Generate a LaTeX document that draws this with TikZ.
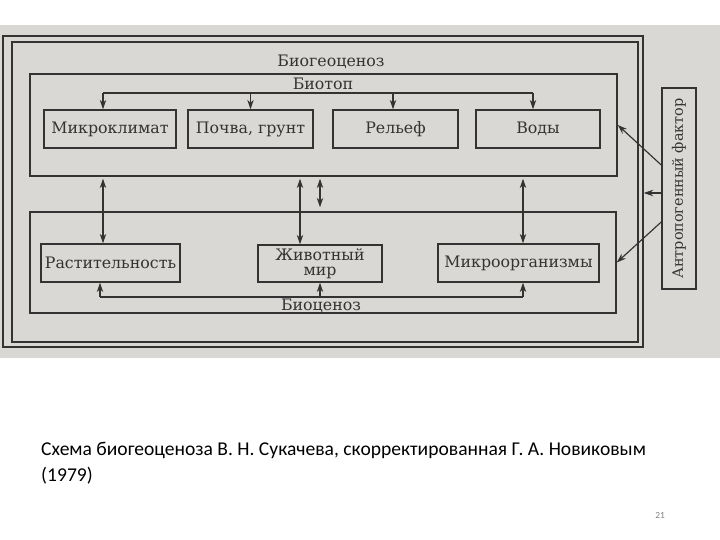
\documentclass[tikz,border=0pt]{standalone}
\usepackage{fontspec}
\setmainfont{DejaVu Serif}
\newfontfamily\capfont{Carlito}
\usetikzlibrary{arrows.meta, positioning}
\definecolor{scan}{HTML}{DAD8D4}
\definecolor{ink}{HTML}{333333}

\begin{document}
\begin{tikzpicture}[x=0.03cm, y=-0.03cm, >=Stealth,
      box/.style={draw=ink, line width=1.3pt, minimum height=1.14cm, inner sep=0pt,
                  font=\fontsize{13.5}{13}\selectfont, text=ink, align=center},
      cont/.style={draw=ink, line width=1.3pt, inner sep=0pt},
      lbl/.style={font=\fontsize{13.5}{14}\selectfont, text=ink},
      link/.style={-{Stealth[length=8pt, width=5.5pt]}, line width=1pt, draw=ink},
      both/.style={{Stealth[length=8pt, width=5.5pt]}-{Stealth[length=8pt, width=5.5pt]}, line width=1pt, draw=ink}]

    \useasboundingbox (0,0) rectangle (720,540);
    \fill[scan] (0,25) rectangle (720,358);

    % frames of the biogeocenosis
    \node[cont, minimum width=19.2cm, minimum height=9.33cm]  (frameout) at (323,191.5) {};
    \node[cont, minimum width=18.78cm, minimum height=9.0cm]  (framein)  at (325,192) {};
    \node[cont, minimum width=17.61cm, minimum height=3.06cm] (biotop)   at (323.5,125) {};
    \node[cont, minimum width=17.58cm, minimum height=3.03cm] (biocen)   at (323,262.5) {};

    \node[lbl] (lbgc) at (331,62)  {Биогеоценоз};
    \node[lbl] (lbt)  at (323,84)  {Биотоп};
    \node[lbl] (lbc)  at (321,306) {Биоценоз};

    % biotope components
    \node[box, minimum width=3.96cm] (mk) at (110,129)   {Микроклимат};
    \node[box, minimum width=3.75cm] (pg) at (250.5,129) {Почва, грунт};
    \node[box, minimum width=3.75cm] (rl) at (395.5,129) {Рельеф};
    \node[box, minimum width=3.72cm] (vd) at (538,129)   {Воды};

    % biocenosis components
    \node[box, minimum width=4.17cm] (rs) at (110.5,263) {Растительность};
    \node[box, minimum width=3.72cm, minimum height=1.11cm] (zh) at (320,263.5) {Животный\\мир};
    \node[box, minimum width=4.83cm] (mo) at (518.5,263) {Микроорганизмы};

    % anthropogenic factor
    \node[box, minimum width=1.02cm, minimum height=6.03cm] (af) at (679,188.5) {};
    \node[lbl, font=\fontsize{12.3}{13}\selectfont, rotate=90] (laf) at (af.center) {Антропогенный фактор};

    % upper distribution line
    \coordinate (topL) at (103,93);
    \coordinate (topR) at (533,93);
    \draw[line width=1pt, ink] (topL) -- (topR);
    \draw[link] (topL) -- (topL |- mk.north);
    \draw[link] (pg.north |- topL) -- (pg.north);
    \draw[link] ([xshift=-0.075cm]rl.north |- topL) -- ([xshift=-0.075cm]rl.north);
    \draw[link] (topR) -- (topR |- vd.north);

    % lower distribution line
    \coordinate (botL) at (100,297);
    \coordinate (botR) at (523,297);
    \draw[line width=1pt, ink] (botL) -- (botR);
    \draw[link] (botL) -- (botL |- rs.south);
    \draw[link] (zh.south |- botL) -- (zh.south);
    \draw[link] (botR) -- (botR |- mo.south);

    % biotope <-> biocenosis
    \draw[both] ([yshift=-0.06cm]topL |- biotop.south) -- (topL |- rs.north);
    \draw[both] ([xshift=-0.6cm, yshift=-0.06cm]zh.north |- biotop.south) -- ([xshift=-0.6cm]zh.north);
    \draw[both] ([yshift=-0.06cm]zh.north |- biotop.south) -- ([yshift=0.12cm]zh.north |- biocen.north);
    \draw[both] ([yshift=-0.06cm]botR |- biotop.south) -- (botR |- mo.north);

    % anthropogenic influence
    \coordinate (afmid) at ([yshift=-0.135cm]af.west);
    \draw[link] ([yshift=0.705cm]af.west) -- (biotop.east);
    \draw[link] (afmid) -- (frameout.east |- afmid);
    \draw[link] ([yshift=-1.005cm]af.west) -- (biocen.east);

    % caption
    \node[font=\capfont\fontsize{16.7}{22}\selectfont, anchor=north west, align=left, inner sep=0pt] (cap) at (41,442)
      {Схема биогеоценоза В. Н. Сукачева, скорректированная Г. А. Новиковым\\(1979)};
    \node[font=\capfont\fontsize{8}{9}\selectfont, text=gray] (pnum) at (660,515) {21};

\end{tikzpicture}
\end{document}
